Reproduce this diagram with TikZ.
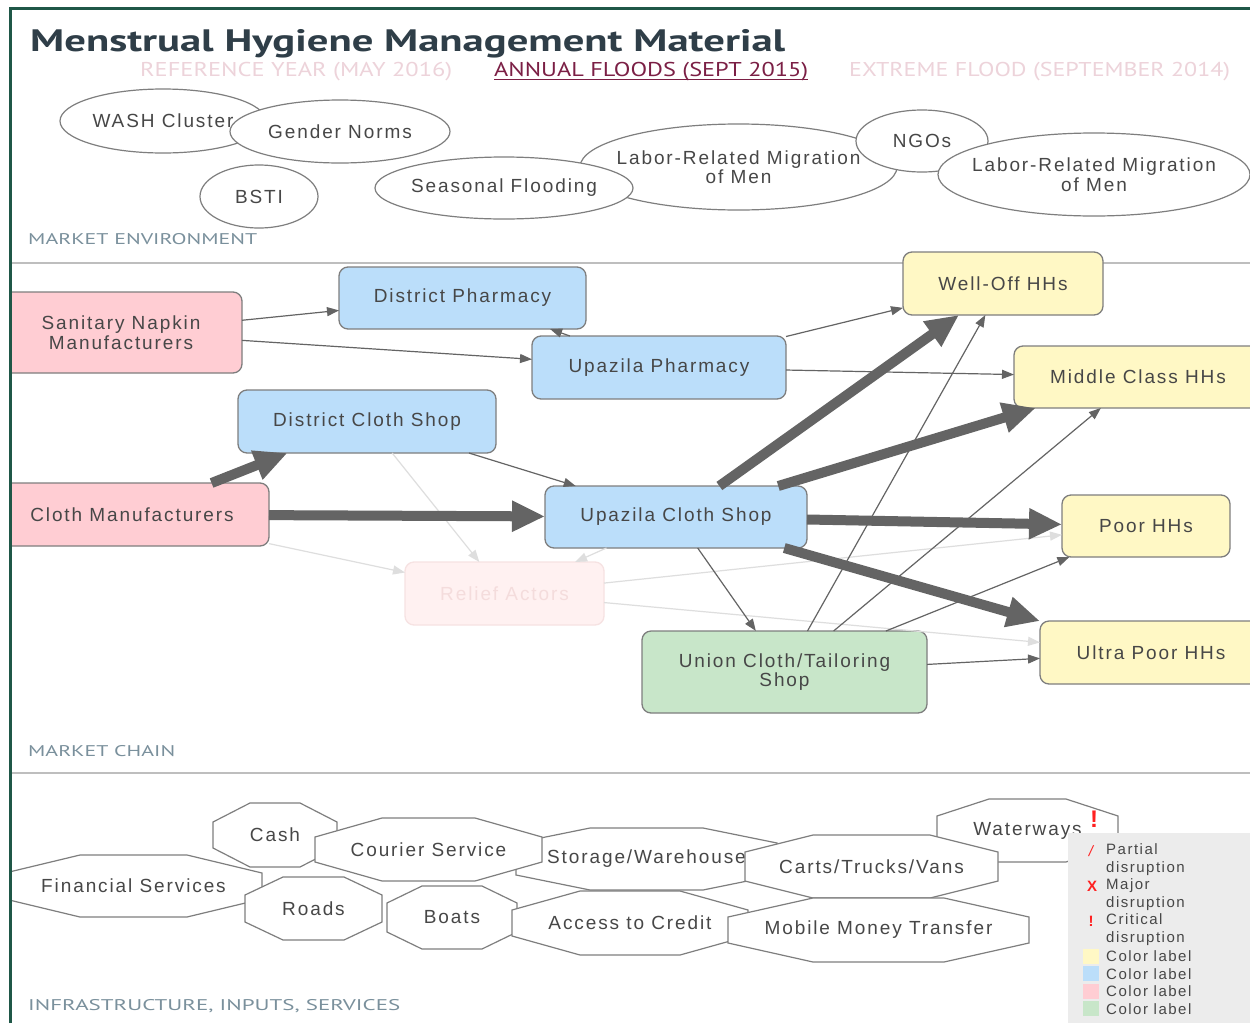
\documentclass[tikz,border=0pt]{standalone}
\usepackage{fontspec}
\usepackage{graphicx}
\setmainfont{Liberation Sans}[LetterSpace=10]
\newfontfamily\headfont{PT Sans}
\usetikzlibrary{arrows.meta,shapes.geometric}

\definecolor{framec}{HTML}{1F5747}
\definecolor{ink}{HTML}{474747}
\definecolor{edgec}{HTML}{646464}
\definecolor{faint}{HTML}{DEDEDE}
\definecolor{sectc}{HTML}{7A909C}
\definecolor{titlec}{HTML}{2F3E48}
\definecolor{pale}{HTML}{EDD3DA}
\definecolor{maroon}{HTML}{7B1F45}
\definecolor{pinkf}{HTML}{FFCDD3}
\definecolor{bluef}{HTML}{BBDEFA}
\definecolor{yellowf}{HTML}{FFF8C5}
\definecolor{greenf}{HTML}{C8E6C9}
\definecolor{boxline}{HTML}{7E7E7E}
\definecolor{sepline}{HTML}{BEBEBE}
\definecolor{legendbg}{HTML}{ECECEC}
\definecolor{alert}{HTML}{FF2020}
\definecolor{reliefF}{HTML}{FFF1F1}
\definecolor{reliefD}{HTML}{F6E2E2}
\definecolor{reliefT}{HTML}{F4DCDC}

\newcommand\nodefont{\fontsize{19}{19.5}\selectfont}
\newcommand\legfont{\fontsize{15}{17.5}\selectfont}

% octagon: name, cx, cy, half width, half height, chamfer x, chamfer y, label
\newcommand\octa[8]{%
  \filldraw[octline]
    ({#2-#4},{#3-#5+#7}) -- ({#2-#4+#6},{#3-#5}) -- ({#2+#4-#6},{#3-#5}) --
    ({#2+#4},{#3-#5+#7}) -- ({#2+#4},{#3+#5-#7}) -- ({#2+#4-#6},{#3+#5}) --
    ({#2-#4+#6},{#3+#5}) -- ({#2-#4},{#3+#5-#7}) -- cycle;
  \node[lbl] (#1) at (#2,#3) {#8};}

\begin{document}
\begin{tikzpicture}[x=1pt,y=-1pt,
  lbl/.style={font=\nodefont, text=ink, align=center, inner sep=0},
  envnode/.style={ellipse, draw=boxline, fill=white, line width=1.2pt, inner sep=0, outer sep=0},
  chain/.style={rectangle, rounded corners=9pt, draw=boxline, line width=1.3pt,
    inner sep=0, outer sep=0, font=\nodefont, text=ink, align=center},
  octline/.style={draw=boxline, fill=white, line width=1.2pt},
  thin/.style={draw=edgec, line width=1.2pt, -{Triangle[length=12pt,width=9pt]}},
  faded/.style={thin, draw=faint},
  thick/.style={draw=edgec, line width=10pt, -{Triangle[length=33pt,width=29pt]}},
  sect/.style={anchor=base west, inner sep=0, text=sectc, font=\headfont\fontsize{15.5}{16}\selectfont},
  sub/.style={anchor=base west, inner sep=0, font=\headfont\fontsize{20}{22}\selectfont},
  legtxt/.style={anchor=west, inner sep=0, text=ink, font=\legfont, align=left},
  redmark/.style={inner sep=0, text=alert, font=\bfseries\fontsize{15}{16}\selectfont}]

\useasboundingbox (0,0) rectangle (1250,1023);
\fill[white] (0,0) rectangle (1250,1023);

\begin{scope}
\clip (10,8) rectangle (1250,1023);

% heading
\node[anchor=base west, inner sep=0, text=titlec] (title) at (30,51)
  {\resizebox{755pt}{\height}{\headfont\bfseries\fontsize{31}{32}\selectfont Menstrual Hygiene Management Material}};
\node[sub, text=pale] (yref) at (140,76) {\resizebox{312pt}{\height}{REFERENCE YEAR (MAY 2016)}};
\node[sub, text=maroon] (yannual) at (494,76) {\resizebox{314pt}{\height}{ANNUAL FLOODS (SEPT 2015)}};
\node[sub, text=pale] (yextreme) at (849,76) {\resizebox{381pt}{\height}{EXTREME FLOOD (SEPTEMBER 2014)}};
\draw[maroon, line width=1.2pt] (yannual.base west) ++(0,3.5) coordinate (ul1) -- ++(314,0) coordinate (ul2);

% market environment
\node[envnode, minimum width=206, minimum height=64, label={[lbl]center:WASH Cluster}] (wash) at (163,121) {};
\node[envnode, minimum width=220, minimum height=63, label={[lbl]center:Gender Norms}] (gender) at (340,131.5) {};
\node[envnode, minimum width=118, minimum height=63, label={[lbl]center:BSTI}] (bsti) at (259,196.5) {};
\node[envnode, minimum width=317, minimum height=86, label={[lbl]center:Labor-Related Migration\\of Men}] (labor1) at (738.5,167) {};
\node[envnode, minimum width=258, minimum height=62, label={[lbl]center:Seasonal Flooding}] (flood) at (504,188) {};
\node[envnode, minimum width=132, minimum height=62, label={[lbl]center:NGOs}] (ngos) at (922,141) {};
\node[envnode, minimum width=312, minimum height=83, label={[lbl]center:Labor-Related Migration\\of Men}] (labor2) at (1094,174.5) {};
\node[sect] (secenv) at (28,244) {\resizebox{229pt}{\height}{MARKET ENVIRONMENT}};

\draw[sepline, line width=2pt] (10,263) coordinate (sepA) -- (1250,263) coordinate (sepB);

% market chain
\node[chain, fill=pinkf, minimum width=242, minimum height=81] (snm) at (121,332.5) {Sanitary Napkin\\Manufacturers};
\node[chain, fill=bluef, minimum width=247, minimum height=62] (dph) at (462.5,298) {District Pharmacy};
\node[chain, fill=bluef, minimum width=254, minimum height=63] (uph) at (659,367.5) {Upazila Pharmacy};
\node[chain, fill=bluef, minimum width=258, minimum height=63] (dcs) at (367,421.5) {District Cloth Shop};
\node[chain, fill=pinkf, minimum width=274, minimum height=63] (cm) at (132,514.5) {Cloth Manufacturers};
\node[chain, fill=bluef, minimum width=262, minimum height=62] (ucs) at (676,517) {Upazila Cloth Shop};
\node[chain, fill=reliefF, draw=reliefD, text=reliefT, minimum width=199, minimum height=63] (rel) at (504.5,593.5) {Relief Actors};
\node[chain, fill=greenf, minimum width=285, minimum height=82] (uct) at (784.5,672) {Union Cloth/Tailoring\\Shop};
\node[chain, fill=yellowf, minimum width=200, minimum height=63] (woh) at (1003,283.5) {Well-Off HHs};
\node[chain, fill=yellowf, minimum width=248, minimum height=62] (mch) at (1138,377) {Middle Class HHs};
\node[chain, fill=yellowf, minimum width=168, minimum height=62] (poor) at (1146,526) {Poor HHs};
\node[chain, fill=yellowf, minimum width=222, minimum height=63] (upoor) at (1151,652.5) {Ultra Poor HHs};

% faint flows
\draw[faded] (dcs) -- (rel);
\draw[faded] (cm) -- (rel);
\draw[faded] (ucs) -- (rel);
\draw[faded] (rel) -- (poor);
\draw[faded] (rel) -- (upoor);
% thin flows
\draw[thin] (snm) -- (dph);
\draw[thin] (snm) -- (uph);
\draw[thin] (uph) -- (dph);
\draw[thin] (uph) -- (woh);
\draw[thin] (uph) -- (mch);
\draw[thin] (dcs) -- (ucs);
\draw[thin] (ucs) -- (uct);
\draw[thin] (uct) -- (woh);
\draw[thin] (uct) -- (mch);
\draw[thin] (uct) -- (poor);
\draw[thin] (uct) -- (upoor);
% main flows
\draw[thick] (cm) -- (dcs);
\draw[thick] (cm) -- (ucs);
\draw[thick] (ucs) -- (woh);
\draw[thick] (ucs) -- (mch);
\draw[thick] (ucs) -- (poor);
\draw[thick] (ucs) -- (upoor);

\node[sect] (secchain) at (28,756) {\resizebox{147pt}{\height}{MARKET CHAIN}};

\draw[sepline, line width=2pt] (10,773) coordinate (sepC) -- (1250,773) coordinate (sepD);

% infrastructure, inputs, services
\octa{fin}{133.5}{886}{128.5}{31}{75}{18}{Financial Services}
\octa{cash}{275}{835}{62}{32}{37}{19}{Cash}
\octa{store}{646.5}{859}{130.5}{31}{74}{15}{Storage/Warehouse}
\octa{courier}{428.5}{849.5}{113.5}{31.5}{67}{19}{Courier Service}
\octa{roads}{313.5}{908.5}{68.5}{31.5}{38}{18}{Roads}
\octa{boats}{452}{917.5}{65}{31.5}{35}{17}{Boats}
\octa{credit}{630}{923}{118}{32}{68}{19}{Access to Credit}
\octa{water}{1027.5}{830.5}{90.5}{31.5}{52}{17}{Waterways}
\octa{carts}{871.5}{866.5}{126.5}{31.5}{68}{17}{Carts/Trucks/Vans}
\octa{mobile}{878.5}{930}{150.5}{32}{85}{19}{Mobile Money Transfer}
\node[redmark, font=\bfseries\fontsize{24}{24}\selectfont] (waterflag) at (1094,819) {!};

\node[sect] (secinfra) at (28,1010) {\resizebox{372pt}{\height}{INFRASTRUCTURE, INPUTS, SERVICES}};

% legend
\fill[legendbg] (1068,833) rectangle (1250,1023);
\node[redmark, font=\fontsize{15}{16}\selectfont\itshape] (mpartial) at (1091,851) {/};
\node[legtxt] (lpartial) at (1106,859.5) {Partial\\disruption};
\node[redmark] (mmajor) at (1092,886) {X};
\node[legtxt] (lmajor) at (1106,894.5) {Major\\disruption};
\node[redmark] (mcrit) at (1091,921) {!};
\node[legtxt] (lcrit) at (1106,929.5) {Critical\\disruption};
\fill[yellowf] (1083,949) rectangle (1099,964);
\node[legtxt] (lyellow) at (1106,956.5) {Color label};
\fill[bluef] (1083,966) rectangle (1099,981);
\node[legtxt] (lblue) at (1106,974) {Color label};
\fill[pinkf] (1083,984) rectangle (1099,999);
\node[legtxt] (lpink) at (1106,991.5) {Color label};
\fill[greenf] (1083,1001) rectangle (1099,1016);
\node[legtxt] (lgreen) at (1106,1009) {Color label};
\end{scope}

% outer frame
\draw[framec, line width=3pt] (10,1023) -- (10,8) -- (1250,8);
\end{tikzpicture}
\end{document}
